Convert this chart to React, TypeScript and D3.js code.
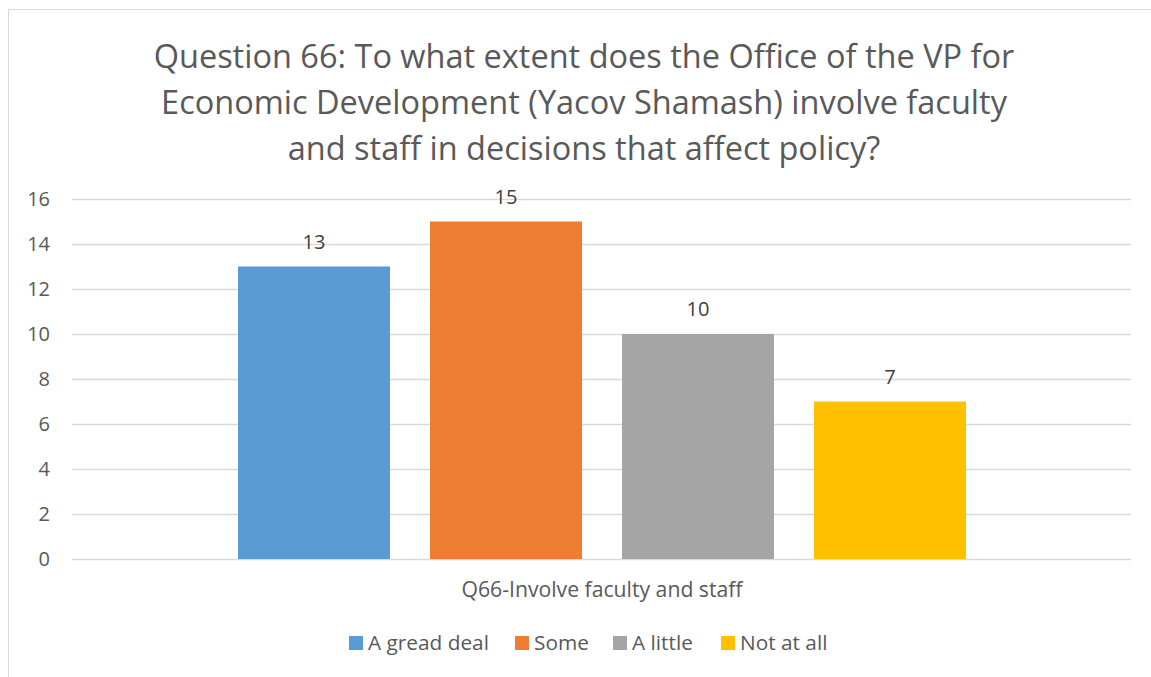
import React from "react";
import * as d3 from "d3";

const titleLines = [
  "Question 66: To what extent does the Office of the VP for",
  "Economic Development (Yacov Shamash) involve faculty",
  "and staff in decisions that affect policy?",
];
const category = "Q66-Involve faculty and staff";
const seriesNames = ["A gread deal", "Some", "A little", "Not at all"];
const seriesValues = [13, 15, 10, 7];
const seriesColors = ["#5B9BD5", "#ED7D31", "#A5A5A5", "#FFC000"];
const yTicks = [0, 2, 4, 6, 8, 10, 12, 14, 16];

const FONT = "'Open Sans', 'Noto Sans', sans-serif";
const TEXT = "#595959";

export default function App() {
  const W = 1151;
  const H = 677;
  const plotLeft = 72;
  const plotRight = 1131;
  const y = d3.scaleLinear().domain([0, 16]).range([559, 199]);
  const x = d3
    .scaleBand<string>()
    .domain(seriesNames)
    .range([218, 986])
    .paddingInner(40 / 192)
    .paddingOuter(20 / 192);

  const legendX = [349, 515, 613, 721];

  return (
    <svg
      width={W}
      height={H}
      style={{ position: "absolute", left: 0, top: 0, background: "#fff" }}
      fontFamily={FONT}
    >
      <rect x={0} y={0} width={W} height={H} fill="#fff" />
      <rect x={8.5} y={9.5} width={1200} height={720} fill="#fff" stroke="#d9d9d9" strokeWidth={1} />
      {titleLines.map((t, i) => (
        <text
          key={i}
          x={584}
          y={68 + i * 46}
          textAnchor="middle"
          fontSize={32.5}
          fill={TEXT}
        >
          {t}
        </text>
      ))}
      {yTicks.map((t) => (
        <g key={t}>
          <line
            x1={plotLeft}
            x2={plotRight}
            y1={Math.round(y(t)) + 0.5}
            y2={Math.round(y(t)) + 0.5}
            stroke="#d9d9d9"
            strokeWidth={1.5}
          />
          <text
            x={50}
            y={y(t)}
            dy="0.36em"
            textAnchor="end"
            fontSize={20}
            fill={TEXT}
          >
            {t}
          </text>
        </g>
      ))}
      {seriesNames.map((s, i) => (
        <g key={s}>
          <rect
            x={x(s)}
            y={y(seriesValues[i])}
            width={x.bandwidth()}
            height={y(0) - y(seriesValues[i])}
            fill={seriesColors[i]}
          />
          <text
            x={(x(s) as number) + x.bandwidth() / 2}
            y={y(seriesValues[i]) - 18}
            textAnchor="middle"
            fontSize={20}
            fill="#404040"
          >
            {seriesValues[i]}
          </text>
        </g>
      ))}
      <text x={602} y={597} textAnchor="middle" fontSize={21.2} fill={TEXT}>
        {category}
      </text>
      {seriesNames.map((s, i) => (
        <g key={s}>
          <rect x={legendX[i]} y={636} width={14} height={14} fill={seriesColors[i]} />
          <text x={legendX[i] + 19} y={650} fontSize={20.8} fill={TEXT}>
            {s}
          </text>
        </g>
      ))}
    </svg>
  );
}
